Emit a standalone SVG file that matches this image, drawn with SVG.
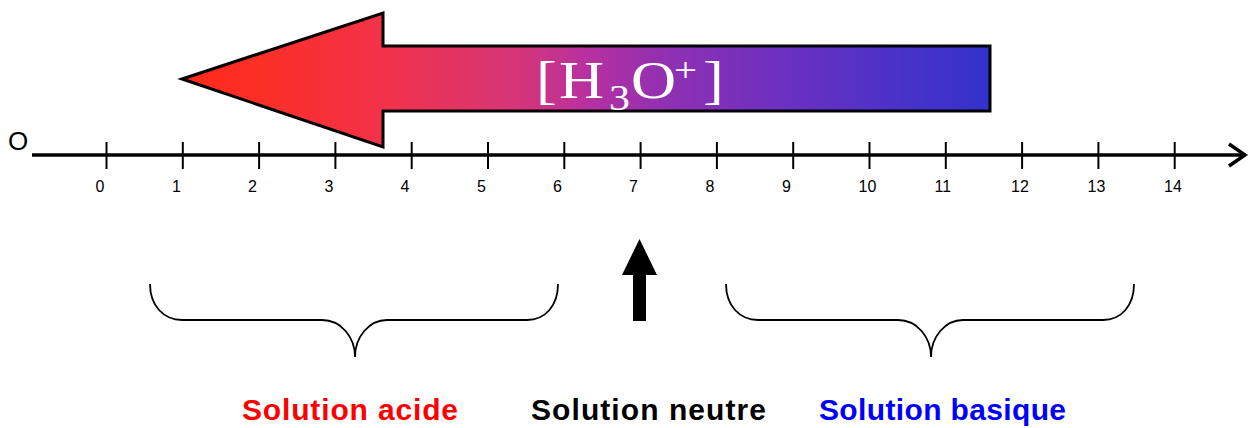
<svg xmlns="http://www.w3.org/2000/svg" width="1248" height="428" viewBox="0 0 1248 428">
  <defs>
    <linearGradient id="gradH" gradientUnits="userSpaceOnUse" x1="182" y1="0" x2="990" y2="0">
      <stop offset="0" stop-color="#ff2a18"/>
      <stop offset="0.1" stop-color="#fc2f28"/>
      <stop offset="0.25" stop-color="#f2324a"/>
      <stop offset="0.42" stop-color="#d4357a"/>
      <stop offset="0.5" stop-color="#b830a0"/>
      <stop offset="0.6" stop-color="#9030b2"/>
      <stop offset="0.75" stop-color="#6a30c0"/>
      <stop offset="0.88" stop-color="#4c32c8"/>
      <stop offset="1" stop-color="#3232cc"/>
    </linearGradient>
  </defs>
  <style>
    .tick { stroke: #000; stroke-width: 2; }
    .num { font-family: "Liberation Sans", Arial, sans-serif; font-size: 16px; fill: #000; }
    .brace { fill: none; stroke: #000; stroke-width: 1.8; }
    .sol { font-family: "Comic Sans MS", "Liberation Sans", sans-serif; font-size: 30px; font-weight: bold; }
  </style>
  <rect width="1248" height="428" fill="#fff"/>

  <g id="h3o-arrow">
    <polygon points="182,79 383,13 383,46 990,46 990,111 383,111 383,147" fill="url(#gradH)" stroke="#000" stroke-width="3" stroke-linejoin="miter"/>
    <text transform="matrix(1.2,0,0,1,0,0)" font-family="'Liberation Serif', 'Times New Roman', serif" fill="#fff" font-size="52"><tspan x="446.7" y="98">[</tspan><tspan x="465.8" y="98">H</tspan><tspan x="507.5" y="110" font-size="35">3</tspan><tspan x="525.8" y="98">O</tspan><tspan x="561.7" y="81" font-size="34">+</tspan><tspan x="585.8" y="98">]</tspan></text>
  </g>

  <g id="connectors">
    <g id="axis">
      <line x1="32" y1="155" x2="1243" y2="155" stroke="#000" stroke-width="3.5"/>
      <polyline points="1229,144 1245,155 1229,166" fill="none" stroke="#000" stroke-width="3.5"/>
    </g>
  </g>

  <g id="origin">
    <text x="8" y="150" font-family="'Liberation Sans', Arial, sans-serif" font-size="26" fill="#000">O</text>
  </g>

  <g id="ticks">
    <line class="tick" x1="106.5" y1="142" x2="106.5" y2="169"/>
    <line class="tick" x1="182.8" y1="142" x2="182.8" y2="169"/>
    <line class="tick" x1="259.1" y1="142" x2="259.1" y2="169"/>
    <line class="tick" x1="335.4" y1="142" x2="335.4" y2="169"/>
    <line class="tick" x1="411.7" y1="142" x2="411.7" y2="169"/>
    <line class="tick" x1="488" y1="142" x2="488" y2="169"/>
    <line class="tick" x1="564.3" y1="142" x2="564.3" y2="169"/>
    <line class="tick" x1="640.6" y1="142" x2="640.6" y2="169"/>
    <line class="tick" x1="716.9" y1="142" x2="716.9" y2="169"/>
    <line class="tick" x1="793.2" y1="142" x2="793.2" y2="169"/>
    <line class="tick" x1="869.5" y1="142" x2="869.5" y2="169"/>
    <line class="tick" x1="945.8" y1="142" x2="945.8" y2="169"/>
    <line class="tick" x1="1022.1" y1="142" x2="1022.1" y2="169"/>
    <line class="tick" x1="1098.4" y1="142" x2="1098.4" y2="169"/>
    <line class="tick" x1="1174.7" y1="142" x2="1174.7" y2="169"/>
  </g>

  <g id="tick-labels">
    <text class="num" x="95.5" y="192">0</text>
    <text class="num" x="172" y="192">1</text>
    <text class="num" x="248" y="192">2</text>
    <text class="num" x="324.5" y="192">3</text>
    <text class="num" x="400.5" y="192">4</text>
    <text class="num" x="477" y="192">5</text>
    <text class="num" x="553" y="192">6</text>
    <text class="num" x="629" y="192">7</text>
    <text class="num" x="705.5" y="192">8</text>
    <text class="num" x="782" y="192">9</text>
    <text class="num" x="858.5" y="192">10</text>
    <text class="num" x="934.5" y="192">11</text>
    <text class="num" x="1011" y="192">12</text>
    <text class="num" x="1087.5" y="192">13</text>
    <text class="num" x="1164" y="192">14</text>
  </g>

  <g id="neutral-arrow">
    <polygon points="639.5,239 657,275 646,275 646,321 633,321 633,275 622,275" fill="#000"/>
  </g>

  <g id="brace-acid">
    <path class="brace" d="M150,284 C150,306 164,320 182,320 L322,320 C341,320 355,337 355,357 C355,337 369,320 387,320 L527,320 C545,320 558,306 558,284"/>
  </g>

  <g id="brace-basic">
    <path class="brace" d="M726,284 C726,306 740,320 758,320 L898,320 C917,320 931,337 931,357 C931,337 945,320 963,320 L1103,320 C1121,320 1134,306 1134,284"/>
  </g>

  <g id="solution-labels">
    <text class="sol" x="242" y="420" fill="#ff0000" textLength="216">Solution acide</text>
    <text class="sol" x="531" y="420" fill="#000000" textLength="235">Solution neutre</text>
    <text class="sol" x="819" y="420" fill="#0000ff" textLength="247">Solution basique</text>
  </g>
</svg>
